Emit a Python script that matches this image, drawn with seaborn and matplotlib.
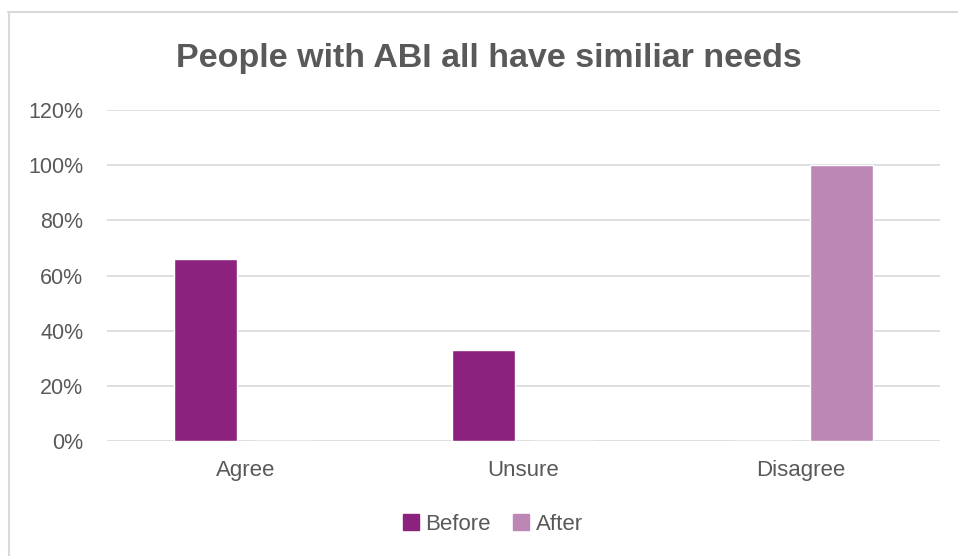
import matplotlib
matplotlib.use("Agg")
import matplotlib.pyplot as plt
import matplotlib.patches as mpatches
from matplotlib.ticker import FuncFormatter
import seaborn as sns
import pandas as pd

# Survey responses, share of respondents
categories = ["Agree", "Unsure", "Disagree"]
before = [0.66, 0.33, 0.0]
after = [0.0, 0.0, 1.0]
series = ["Before", "After"]
colors = ["#8B237E", "#BC87B5"]
title = "People with ABI all have similiar needs"
yticks = [0, 0.2, 0.4, 0.6, 0.8, 1.0, 1.2]

df = pd.DataFrame({
    "Response": categories * 2,
    "Share": before + after,
    "Period": [series[0]] * len(categories) + [series[1]] * len(categories),
})

sns.set_theme(style="white")
plt.rcParams["font.family"] = ["Liberation Sans", "DejaVu Sans"]

W, H = 958, 556
fig = plt.figure(figsize=(W / 100, H / 100), dpi=100)
fig.patch.set_facecolor("white")

# Outer frame (top and left edges visible)
fig.add_artist(plt.Line2D([8 / W, 1.0], [1 - 11.5 / H, 1 - 11.5 / H],
                          color="#D9D9D9", lw=1.5, transform=fig.transFigure))
fig.add_artist(plt.Line2D([8.5 / W, 8.5 / W], [0, 1 - 11.5 / H],
                          color="#D9D9D9", lw=1.5, transform=fig.transFigure))

ax = fig.add_axes([107 / W, 115 / H, (940 - 107) / W, (441 - 110) / H])
sns.barplot(data=df, x="Response", y="Share", hue="Period",
            hue_order=series, order=categories, palette=colors,
            width=0.58, gap=0.22, saturation=1, ax=ax, legend=False,
            errorbar=None)

ax.set_ylim(0, 1.2)
ax.set_xlim(-0.5, 2.5)
ax.set_yticks(yticks)
ax.yaxis.set_major_formatter(FuncFormatter(lambda v, _: f"{v * 100:.0f}%"))
ax.grid(axis="y", color="#D9D9D9", lw=1.2)
ax.set_axisbelow(True)
for s in ax.spines.values():
    s.set_visible(False)
ax.tick_params(axis="y", length=0, pad=17, labelsize=15.5, labelcolor="#595959")
ax.tick_params(axis="x", length=0, pad=14, labelsize=16, labelcolor="#595959")
ax.set_xlabel("")
ax.set_ylabel("")

fig.text(489 / W, 1 - 66.5 / H, title, ha="center", va="baseline",
         fontsize=24.5, fontweight="bold", color="#595959")

handles = [mpatches.Patch(color=c, label=l) for c, l in zip(colors, series)]
fig.legend(handles=handles, loc="center", bbox_to_anchor=(493 / W, 1 - 524 / H),
           ncol=2, frameon=False, fontsize=16, labelcolor="#595959",
           handlelength=0.7, handleheight=0.7, handletextpad=0.3,
           columnspacing=1.0)

fig.savefig("out.png", dpi=100, facecolor="white")
